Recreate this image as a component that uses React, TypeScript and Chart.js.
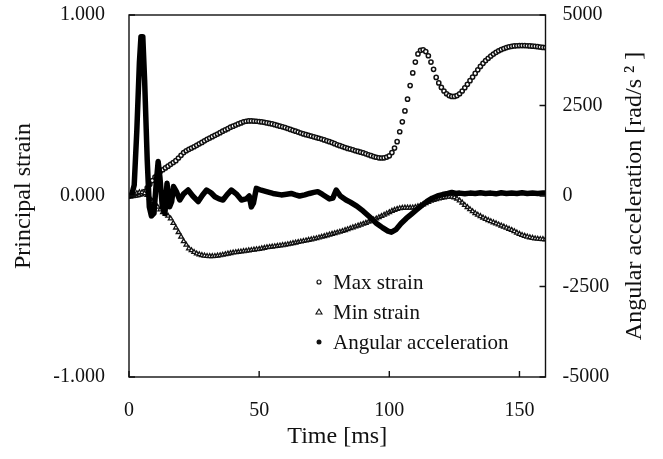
import React, { useEffect, useRef } from "react";
import { Chart, registerables } from "chart.js";

Chart.register(...registerables);

// Sampling grid of the strain series (1 ms)
const TIME_MS = Array.from({ length: 161 }, (_, i) => i);

const MAX_STRAIN = [
  0.000, 0.000, 0.003, 0.005, 0.008, 0.012, 0.025, 0.045, 0.065, 0.085,
  0.105, 0.120, 0.135, 0.145, 0.155, 0.165, 0.175, 0.185, 0.195, 0.210,
  0.225, 0.240, 0.250, 0.258, 0.265, 0.272, 0.280, 0.288, 0.296, 0.305,
  0.313, 0.320, 0.328, 0.335, 0.342, 0.350, 0.358, 0.365, 0.372, 0.380,
  0.386, 0.392, 0.398, 0.404, 0.410, 0.413, 0.415, 0.415, 0.414, 0.413,
  0.411, 0.409, 0.407, 0.404, 0.401, 0.398, 0.394, 0.390, 0.386, 0.382,
  0.378, 0.373, 0.368, 0.363, 0.358, 0.353, 0.348, 0.343, 0.339, 0.335,
  0.331, 0.327, 0.323, 0.319, 0.315, 0.310, 0.305, 0.300, 0.295, 0.289,
  0.283, 0.278, 0.273, 0.268, 0.263, 0.259, 0.255, 0.250, 0.246, 0.242,
  0.238, 0.233, 0.228, 0.223, 0.218, 0.214, 0.211, 0.210, 0.211, 0.215,
  0.222, 0.240, 0.265, 0.300, 0.355, 0.410, 0.470, 0.535, 0.610, 0.680,
  0.740, 0.785, 0.805, 0.808, 0.798, 0.775, 0.740, 0.700, 0.655, 0.625,
  0.600, 0.580, 0.565, 0.555, 0.550, 0.550, 0.555, 0.565, 0.580, 0.598,
  0.617, 0.637, 0.657, 0.677, 0.697, 0.716, 0.733, 0.748, 0.761, 0.773,
  0.784, 0.794, 0.802, 0.809, 0.815, 0.820, 0.824, 0.827, 0.829, 0.830,
  0.831, 0.831, 0.831, 0.830, 0.829, 0.828, 0.827, 0.825, 0.823, 0.821,
  0.820,
];

const MIN_STRAIN = [
  0.000, 0.005, 0.010, 0.015, 0.020, 0.020, 0.015, 0.005, -0.010, -0.030,
  -0.045, -0.060, -0.075, -0.090, -0.100, -0.110, -0.125, -0.150, -0.175, -0.200,
  -0.225, -0.250, -0.270, -0.290, -0.300, -0.310, -0.318, -0.323, -0.327, -0.330,
  -0.332, -0.333, -0.333, -0.332, -0.330, -0.328, -0.325, -0.322, -0.319, -0.316,
  -0.313, -0.311, -0.309, -0.307, -0.305, -0.303, -0.301, -0.299, -0.297, -0.295,
  -0.293, -0.290, -0.287, -0.284, -0.282, -0.280, -0.278, -0.276, -0.274, -0.272,
  -0.270, -0.267, -0.264, -0.261, -0.258, -0.255, -0.252, -0.249, -0.246, -0.243,
  -0.240, -0.237, -0.234, -0.230, -0.226, -0.222, -0.218, -0.214, -0.210, -0.206,
  -0.202, -0.198, -0.194, -0.189, -0.184, -0.179, -0.174, -0.169, -0.164, -0.159,
  -0.154, -0.149, -0.143, -0.137, -0.131, -0.125, -0.118, -0.111, -0.104, -0.097,
  -0.090, -0.083, -0.077, -0.072, -0.068, -0.066, -0.065, -0.065, -0.065, -0.064,
  -0.062, -0.058, -0.053, -0.047, -0.040, -0.033, -0.027, -0.022, -0.018, -0.014,
  -0.011, -0.008, -0.006, -0.005, -0.005, -0.008, -0.015, -0.025, -0.037, -0.050,
  -0.062, -0.074, -0.085, -0.095, -0.104, -0.112, -0.120, -0.127, -0.134, -0.140,
  -0.146, -0.152, -0.158, -0.164, -0.170, -0.176, -0.182, -0.188, -0.195, -0.203,
  -0.210, -0.216, -0.221, -0.225, -0.229, -0.232, -0.235, -0.237, -0.238, -0.239,
  -0.240,
];

// Angular acceleration polyline vertices (ms, rad/s^2)
const ACC_TIME = [
  0, 1, 2, 3, 4, 4.6, 5.3, 6, 7, 7.8, 8.6, 9.6, 10.4, 11.2, 11.9, 12.8, 13.8, 14.6,
  15.6, 16.4, 17.1, 18.2, 19.5, 21, 22.7, 24.5, 26.6, 28.2, 29.8, 31.5, 33, 34.6,
  36.1, 37.7, 39.3, 41.2, 43.2, 45, 46.2, 47, 47.8, 48.9, 50.8, 52.8, 55.3, 58.5,
  60.5, 62.3, 64, 65.5, 67.5, 69.3, 71, 72.5, 74.2, 75.7, 77, 78.3, 79.6, 81.2,
  83.4, 85, 87.5, 90, 92.5, 95, 97.5, 99.5, 100.8, 102.5, 104.5, 106.5, 108.5,
  110.5, 112.5, 114.5, 116.5, 118.5, 120.5, 122.5, 124, 125.5, 127, 129, 131, 133,
  135, 137, 139, 141, 143, 145, 147, 149, 151, 153, 155, 157, 159, 160,
];
const ACC_VALUE = [
  0, 20, 300, 1800, 3700, 4400, 4400, 3200, 1000, -300, -550, -480, 300, 950, 500, -300, -480, 350,
  -300, -150, 260, 120, -110, 60, 165, 0, -155, 20, 165, 90, -20, -80,
  -110, 40, 165, 60, -110, -80, 0, -300, -200, 210, 160, 120, 70, 30,
  50, 70, 30, 0, 30, 70, 100, 120, 50, -20, -80, -60, 165, 0,
  -110, -170, -280, -420, -580, -750, -880, -970, -1000, -930, -760, -620, -500,
  -380, -260, -150, -60, 0, 40, 70, 100, 70, 80, 60, 80, 70,
  90, 70, 80, 60, 90, 70, 80, 70, 90, 70, 80, 70, 80, 80,
];

const X_TICKS = [0, 50, 100, 150];
const STRAIN_TICKS = [-1, 0, 1];
const ACC_TICKS = [-5000, -2500, 0, 2500, 5000];
const SERIES_LABELS = ["Max strain", "Min strain", "Angular acceleration"];
const X_TITLE = "Time [ms]";
const Y_TITLE = "Principal strain";
const Y2_TITLE = "Angular acceleration [rad/s ² ]";

const FONT = '"Liberation Serif", "Times New Roman", serif';
const INK = "#111111";

const framePlugin = {
  id: "frameAndLegend",
  afterDraw(chart: any) {
    const { ctx, chartArea: a, scales } = chart;
    ctx.save();
    // frame
    ctx.strokeStyle = "#111111";
    ctx.lineWidth = 1.4;
    ctx.strokeRect(a.left, a.top, a.right - a.left, a.bottom - a.top);
    // inward tick marks
    const len = 6;
    ctx.beginPath();
    X_TICKS.forEach((v) => {
      const px = scales.x.getPixelForValue(v);
      ctx.moveTo(px, a.bottom);
      ctx.lineTo(px, a.bottom - len);
    });
    STRAIN_TICKS.forEach((v) => {
      const py = scales.y.getPixelForValue(v);
      ctx.moveTo(a.left, py);
      ctx.lineTo(a.left + len, py);
    });
    ACC_TICKS.forEach((v) => {
      const py = scales.y2.getPixelForValue(v);
      ctx.moveTo(a.right, py);
      ctx.lineTo(a.right - len, py);
    });
    ctx.stroke();

    // right axis title, reading bottom-to-top
    ctx.save();
    ctx.translate(scales.y2.right - 28, (a.top + a.bottom) / 2);
    ctx.rotate(-Math.PI / 2);
    ctx.font = `24px ${FONT}`;
    ctx.fillStyle = INK;
    ctx.textAlign = "center";
    ctx.textBaseline = "middle";
    ctx.fillText(Y2_TITLE, 0, 0);
    ctx.restore();

    // legend inside plot
    const mx = a.left + 190;
    const tx = a.left + 204;
    const rows = [a.top + 267, a.top + 297, a.top + 327];
    ctx.font = `21px ${FONT}`;
    ctx.fillStyle = INK;
    ctx.textBaseline = "middle";
    ctx.textAlign = "left";
    SERIES_LABELS.forEach((lab, i) => {
      const y = rows[i];
      ctx.fillText(lab, tx, y + 1);
      ctx.beginPath();
      if (i === 0) {
        ctx.arc(mx, y, 2, 0, Math.PI * 2);
        ctx.fillStyle = "#fff";
        ctx.fill();
        ctx.lineWidth = 1.2;
        ctx.strokeStyle = INK;
        ctx.stroke();
      } else if (i === 1) {
        ctx.moveTo(mx, y - 3);
        ctx.lineTo(mx + 3, y + 2);
        ctx.lineTo(mx - 3, y + 2);
        ctx.closePath();
        ctx.lineWidth = 1.1;
        ctx.strokeStyle = INK;
        ctx.stroke();
      } else {
        ctx.arc(mx, y, 2.5, 0, Math.PI * 2);
        ctx.fillStyle = INK;
        ctx.fill();
      }
      ctx.fillStyle = INK;
    });
    ctx.restore();
  },
};

export default function App() {
  const ref = useRef<HTMLCanvasElement | null>(null);

  useEffect(() => {
    document.body.style.margin = "0";
    const canvas = ref.current;
    if (!canvas) return;

    const maxPts = TIME_MS.map((t, i) => ({ x: t, y: MAX_STRAIN[i] }));
    const minPts = TIME_MS.map((t, i) => ({ x: t, y: MIN_STRAIN[i] }));
    const accPts = ACC_TIME.map((t, i) => ({ x: t, y: ACC_VALUE[i] }));

    const tickFont = { family: FONT, size: 20 };
    const titleFont = { family: FONT, size: 24, lineHeight: 1.2 };

    const noVPad = (s: any) => {
      s.paddingTop = 0;
      s.paddingBottom = 0;
    };

    const chart = new Chart(canvas, {
      type: "line",
      data: {
        datasets: [
          {
            label: SERIES_LABELS[0],
            data: maxPts,
            yAxisID: "y",
            showLine: false,
            pointStyle: "circle",
            pointRadius: 2.1,
            pointBorderWidth: 1.5,
            pointBackgroundColor: "#ffffff",
            pointBorderColor: "#111111",
            order: 2,
          },
          {
            label: SERIES_LABELS[1],
            data: minPts,
            yAxisID: "y",
            showLine: false,
            pointStyle: "triangle",
            pointRadius: 2.6,
            pointBorderWidth: 1.3,
            pointBackgroundColor: "#ffffff",
            pointBorderColor: "#111111",
            order: 1,
          },
          {
            label: SERIES_LABELS[2],
            data: accPts,
            yAxisID: "y2",
            borderColor: "#000000",
            borderWidth: 5.5,
            borderJoinStyle: "round",
            borderCapStyle: "round",
            pointRadius: 0,
            tension: 0,
            order: 0,
          },
        ],
      },
      options: {
        responsive: false,
        animation: false,
        events: [],
        layout: { padding: { top: 15, left: 0, right: 0, bottom: 0 } },
        plugins: {
          legend: { display: false },
          tooltip: { enabled: false },
          title: { display: false },
        },
        scales: {
          x: {
            type: "linear",
            min: 0,
            max: 160,
            afterBuildTicks: (s: any) => {
              s.ticks = X_TICKS.map((v) => ({ value: v }));
            },
            afterFit: (s: any) => {
              s.height = 82;
              s.paddingLeft = 0;
              s.paddingRight = 0;
            },
            grid: { display: false, drawTicks: false },
            border: { display: false },
            ticks: {
              font: tickFont,
              color: INK,
              padding: 22,
              maxRotation: 0,
              autoSkip: false,
            },
            title: {
              display: true,
              text: X_TITLE,
              font: titleFont,
              color: INK,
              padding: { top: 0, bottom: 8 },
            },
          },
          y: {
            type: "linear",
            position: "left",
            min: -1,
            max: 1,
            afterBuildTicks: (s: any) => {
              s.ticks = STRAIN_TICKS.map((v) => ({ value: v }));
            },
            afterFit: (s: any) => {
              s.width = 129;
              noVPad(s);
            },
            grid: { display: false, drawTicks: false },
            border: { display: false },
            ticks: {
              font: tickFont,
              color: INK,
              padding: 24,
              autoSkip: false,
              callback: (v: any) => Number(v).toFixed(3),
            },
            title: {
              display: true,
              text: Y_TITLE,
              font: titleFont,
              color: INK,
              padding: { top: 9, bottom: 0 },
            },
          },
          y2: {
            type: "linear",
            position: "right",
            min: -5000,
            max: 5000,
            afterBuildTicks: (s: any) => {
              s.ticks = ACC_TICKS.map((v) => ({ value: v }));
            },
            afterFit: (s: any) => {
              s.width = 117.5;
              noVPad(s);
            },
            grid: { display: false, drawTicks: false },
            border: { display: false },
            ticks: {
              font: tickFont,
              color: INK,
              padding: 17,
              autoSkip: false,
              callback: (v: any) => String(v),
            },
            title: { display: false, text: Y2_TITLE },
          },
        },
      },
      plugins: [framePlugin],
    } as any);

    return () => chart.destroy();
  }, []);

  return (
    <div style={{ position: "absolute", left: 0, top: 0, width: 663, height: 459, background: "#fff" }}>
      <canvas ref={ref} width={663} height={459} style={{ display: "block" }} />
    </div>
  );
}
